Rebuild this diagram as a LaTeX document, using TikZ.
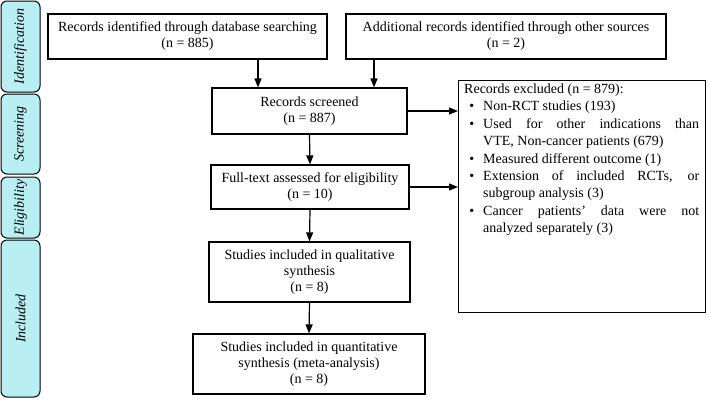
\documentclass[tikz,border=0pt]{standalone}
\usepackage{fontspec}
\setmainfont{Liberation Serif}
\usetikzlibrary{arrows.meta}
\definecolor{sidecyan}{RGB}{185,238,242}
\tikzset{
  box/.style={draw=black, line width=1.2pt, fill=white, align=center, inner sep=2pt,
    font=\fontsize{14}{16}\selectfont},
  side/.style={draw=black, line width=1pt, fill=sidecyan, rounded corners=6pt, rotate=90,
    font=\fontsize{14}{16}\selectfont\itshape, inner sep=0pt},
  arr/.style={line width=1.2pt, -{Triangle[length=9pt,width=7pt]}}
}
\begin{document}
\begin{tikzpicture}[x=1pt,y=-1pt]
\useasboundingbox (0,0) rectangle (709,400);
% side bars
\node[side, minimum width=91pt, minimum height=39pt] (sid) at (20.5,46.5) {Identification};
\node[side, minimum width=80pt, minimum height=39pt] (sscr) at (20.5,134) {Screening};
\node[side, minimum width=61pt, minimum height=39pt] (selig) at (20.5,207.5) {Eligibility};
\node[side, minimum width=157pt, minimum height=39pt] (sinc) at (20.5,318.5) {Included};
% boxes
\node[box, minimum width=279pt, minimum height=45pt] (id1) at (187.5,36.5)
  {Records identified through database searching\\(n = 885)};
\node[box, minimum width=320pt, minimum height=45pt] (id2) at (506,36.5)
  {Additional records identified through other sources\\(n = 2)};
\node[box, minimum width=195pt, minimum height=46pt] (scr) at (309.5,111)
  {Records screened\\(n = 887)};
\node[box, minimum width=198pt, minimum height=44pt] (full) at (310,187)
  {Full-text assessed for eligibility\\(n = 10)};
\node[box, minimum width=201pt, minimum height=60pt] (qual) at (309.5,272)
  {Studies included in qualitative\\synthesis\\(n = 8)};
\node[box, minimum width=232pt, minimum height=60pt] (quant) at (309,364)
  {Studies included in quantitative\\synthesis (meta-analysis)\\(n = 8)};
\node[box, anchor=north west, minimum width=247pt, minimum height=232pt] (exc) at (458,80) {};
\node[anchor=north west, text width=235pt, align=justify, inner sep=0pt,
  font=\fontsize{14}{17.4}\selectfont] (exctext) at ([xshift=6pt,yshift=-3.5pt]exc.north west)
  {Records excluded (n = 879):
   \begin{list}{\textbullet}{\setlength\leftmargin{19pt}\setlength\labelwidth{10pt}%
     \setlength\labelsep{9pt}\setlength\itemsep{0pt}\setlength\parsep{0pt}%
     \setlength\topsep{0pt}\setlength\partopsep{0pt}}
   \item Non-RCT studies (193)
   \item Used for other indications than\linebreak VTE, Non-cancer patients (679)
   \item Measured different outcome (1)
   \item Extension of included RCTs, or\linebreak subgroup analysis (3)
   \item Cancer patients' data were not\linebreak analyzed separately (3)
   \end{list}};
% arrows
\draw[arr] ([xshift=70.5pt]id1.south) -- ([xshift=70.5pt]id1.south |- scr.north);
\draw[arr] ([xshift=-132pt]id2.south) -- ([xshift=-132pt]id2.south |- scr.north);
\draw[arr] (scr.south) -- (full.north);
\draw[arr] (full.south) -- (qual.north);
\draw[arr] (qual.south) -- (quant.north);
\draw[arr] (scr.east) -- (scr.east -| exc.west);
\draw[arr] (full.east) -- (full.east -| exc.west);
\end{tikzpicture}
\end{document}
